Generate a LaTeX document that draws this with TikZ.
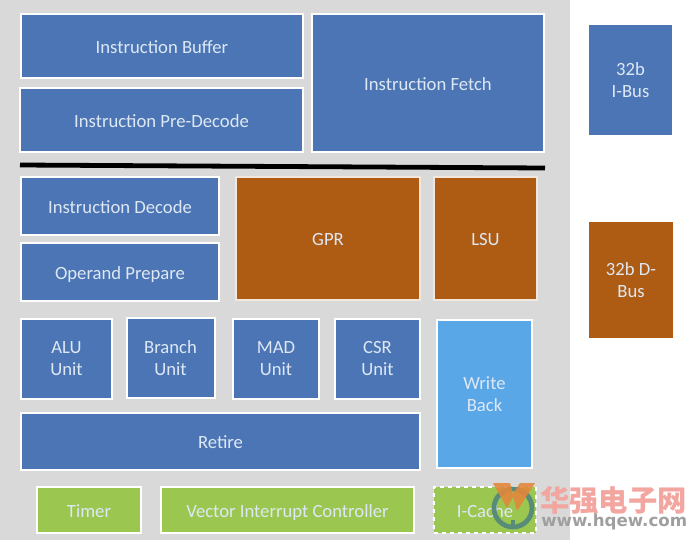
\documentclass[tikz,border=0pt]{standalone}
\usepackage{fontspec}
\usepackage{xcolor}
\setmainfont{Carlito}
\newfontfamily\cjkfont{Noto Sans CJK SC}
\newfontfamily\urlfont{DejaVu Sans}
\usetikzlibrary{positioning}
\definecolor{softgray}{RGB}{217,217,217}
\definecolor{coreblue}{RGB}{75,117,180}
\definecolor{busorange}{RGB}{174,91,20}
\definecolor{backblue}{RGB}{90,167,232}
\definecolor{leafgreen}{RGB}{155,199,80}
\definecolor{labeltint}{RGB}{222,232,244}
\definecolor{markred}{RGB}{243,165,160}
\definecolor{markteal}{RGB}{88,140,120}
\definecolor{markorange}{RGB}{226,135,60}
\tikzset{
  block/.style={draw=white, line width=1.5pt, text=labeltint, align=center, font=\fontsize{14}{16.5}\selectfont, inner sep=0pt, text height=11pt, text depth=0pt},
  twoline/.style={text height=, text depth=},
  corebox/.style={block, fill=coreblue},
  regbox/.style={block, fill=busorange, draw=white!85!busorange},
  backbox/.style={block, fill=backblue},
  periphbox/.style={block, fill=leafgreen}
}

\begin{document}
\begin{tikzpicture}[x=0.75pt, y=-0.75pt]
  \useasboundingbox (0,0) rectangle (694,540);
  \fill[softgray] (0,0) rectangle (570,540);

  % fetch stage
  \node[corebox, minimum width=211.5pt, minimum height=48pt] (buffer) at (162,46) {Instruction Buffer};
  \node[corebox, minimum width=212.2pt, minimum height=48pt] (predecode) at (161.5,120) {Instruction Pre-Decode};
  \node[corebox, minimum width=174pt, minimum height=104.2pt] (fetch) at (428,83) {Instruction Fetch};

  \coordinate (splitl) at (20,165);
  \coordinate (splitr) at (545,168);
  \draw[line width=3.6pt] (splitl) -- (splitr);

  % execute stage
  \node[corebox, minimum width=148.5pt, minimum height=43.5pt] (decode) at (120,206) {Instruction Decode};
  \node[corebox, minimum width=148.5pt, minimum height=43.5pt] (operand) at (120,272) {Operand Prepare};
  \node[regbox, minimum width=138pt, minimum height=92.2pt] (gpr) at (328,238.5) {GPR};
  \node[regbox, minimum width=77.2pt, minimum height=92.2pt] (lsu) at (485.5,238.5) {LSU};

  \node[corebox, twoline, minimum width=68.2pt, minimum height=60pt] (alu) at (66.5,359) {ALU\\Unit};
  \node[corebox, twoline, minimum width=66pt, minimum height=60pt] (branch) at (170.5,358) {Branch\\Unit};
  \node[corebox, twoline, minimum width=64.5pt, minimum height=60pt] (mad) at (276,359) {MAD\\Unit};
  \node[corebox, twoline, minimum width=63.7pt, minimum height=60pt] (csr) at (377.5,359) {CSR\\Unit};
  \node[backbox, twoline, minimum width=71.2pt, minimum height=111pt] (writeback) at (484.5,394) {Write\\Back};
  \node[corebox, minimum width=299.2pt, minimum height=42.7pt] (retire) at (220.5,441.5) {Retire};

  % peripherals
  \node[periphbox, minimum width=78pt, minimum height=34.5pt] (timer) at (89,510) {Timer};
  \node[periphbox, minimum width=189.7pt, minimum height=34.5pt] (vic) at (287.5,510) {Vector Interrupt Controller};
  \node[periphbox, dashed, minimum width=76.5pt, minimum height=34.5pt] (icache) at (485,510) {I-Cache};

  % buses
  \node[corebox, twoline, draw=none, minimum width=62.2pt, minimum height=82.5pt] (ibus) at (630.5,80) {32b\\I-Bus};
  \node[regbox, twoline, draw=none, minimum width=63pt, minimum height=87pt] (dbus) at (631,280) {32b D-\\Bus};

  % watermark
  \draw[draw=markteal, line width=3.6pt] (513,508) circle[radius=19];
  \draw[draw=markteal, line width=3.6pt] (513,520) -- (513,527);
  \fill[markorange, opacity=0.9] (493,483) -- (510,483) -- (513,494) -- (520,483) -- (535,483) -- (517,511) -- (513,497) -- (507,508) -- cycle;
  \node[text=markred, font=\cjkfont\bfseries\fontsize{22}{24}\selectfont, anchor=west, inner sep=0pt] (markname) at (540,500) {华强电子网};
  \node[text=gray!75, font=\urlfont\bfseries\fontsize{12.5}{14}\selectfont, anchor=west, inner sep=0pt] (markurl) at (541,522) {www.hqew.com};
\end{tikzpicture}
\end{document}
